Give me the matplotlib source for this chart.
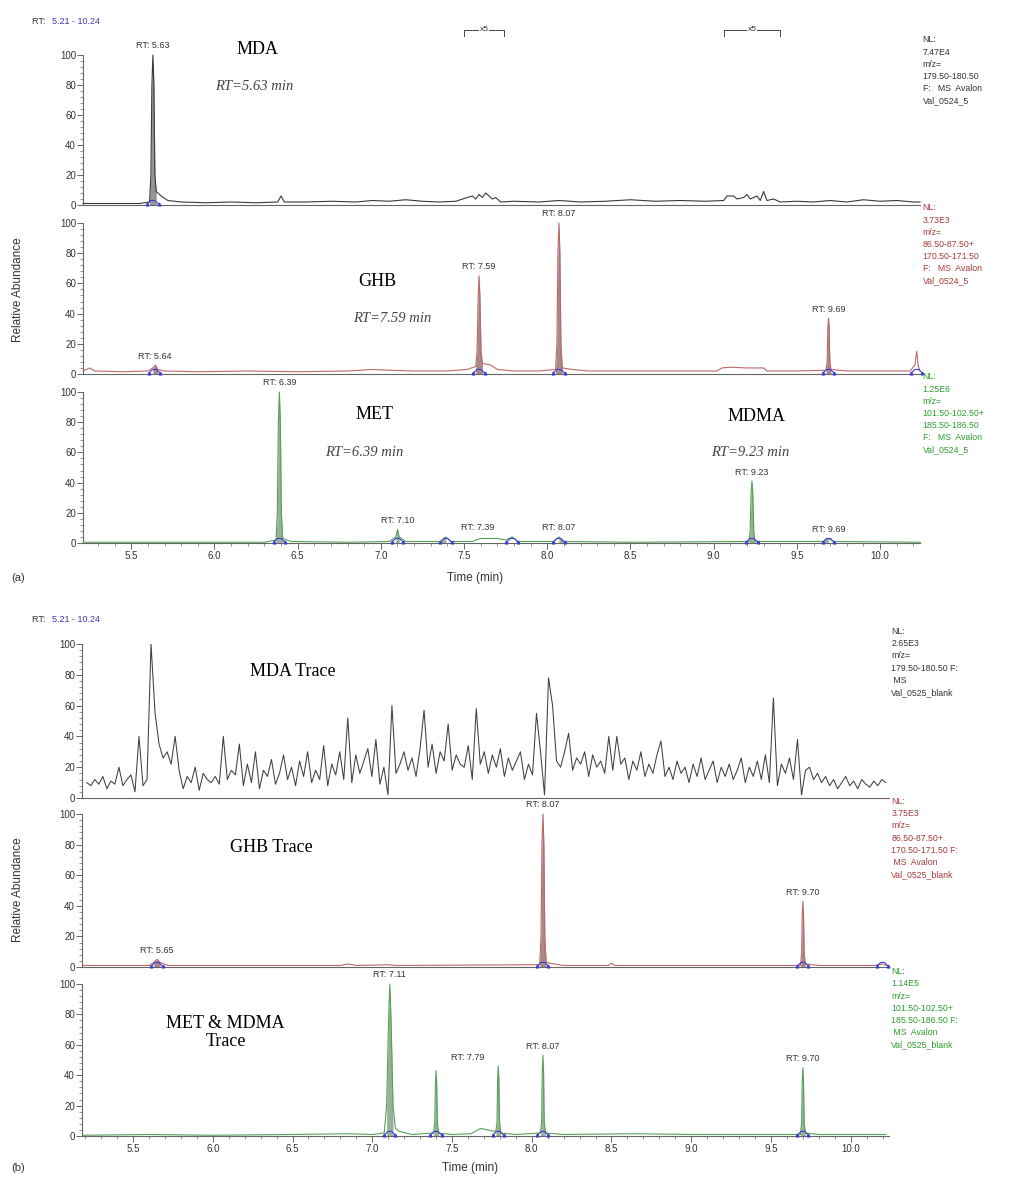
import numpy as np
import matplotlib
matplotlib.use("Agg")
import matplotlib.pyplot as plt
from matplotlib.ticker import MultipleLocator, NullFormatter

W, H = 1024, 1178

# ---------------- data ----------------
# (a) Val_0524_5 -- MDA channel (m/z 179.5-180.5)
a_mda_t = [5.21, 5.40, 5.55, 5.61, 5.618, 5.624, 5.63, 5.636, 5.642, 5.65, 5.68, 5.72,
           5.80, 5.95, 6.10, 6.25, 6.38, 6.40, 6.42, 6.55, 6.70, 6.85, 6.95, 7.05,
           7.15, 7.25, 7.35, 7.45, 7.52, 7.55, 7.57, 7.59, 7.61, 7.63, 7.65, 7.67,
           7.69, 7.72, 7.80, 7.95, 8.07, 8.20, 8.35, 8.50, 8.65, 8.80, 8.95, 9.06,
           9.08, 9.12, 9.14, 9.18, 9.20, 9.22, 9.26, 9.28, 9.30, 9.32, 9.36, 9.40,
           9.50, 9.60, 9.70, 9.80, 9.90, 10.00, 10.10, 10.20, 10.24]
a_mda_y = [1, 1, 1, 2, 20, 80, 100, 80, 20, 9, 6, 3,
           2, 1.5, 2, 1.5, 2, 6, 2, 2, 2.5, 2, 3, 2.5,
           3.5, 2.5, 2, 2.5, 5, 6, 4, 7, 5, 8, 6, 4,
           5, 2, 2.5, 2, 3, 2, 2.5, 3.5, 2.5, 3, 2.5, 3,
           6, 6, 4, 5, 7, 4, 6, 3, 9, 3, 4, 2,
           2.5, 2, 3, 2, 3.5, 2.5, 3, 2, 2]

# (a) GHB channel
a_ghb_t = [5.21, 5.25, 5.28, 5.45, 5.60, 5.63, 5.645, 5.66, 5.70, 5.90, 6.20, 6.50,
           6.80, 6.95, 7.05, 7.20, 7.40, 7.52, 7.57, 7.578, 7.585, 7.59, 7.595, 7.602,
           7.61, 7.66, 7.70, 7.80, 7.95, 8.05, 8.058, 8.064, 8.07, 8.076, 8.082, 8.09,
           8.15, 8.25, 8.50, 8.80, 9.02, 9.05, 9.10, 9.20, 9.30, 9.32, 9.50, 9.675,
           9.682, 9.686, 9.69, 9.694, 9.698, 9.705, 9.80, 10.00, 10.18, 10.21, 10.22,
           10.23, 10.24]
a_ghb_y = [2, 4, 2, 1.5, 2, 4, 6, 3, 2, 1.5, 2, 1.5,
           2, 3, 2.5, 2, 2, 3, 5, 15, 52, 65, 52, 15,
           7, 6, 3, 2, 2, 3, 20, 80, 100, 80, 20, 4,
           3, 2, 2, 2, 2, 4, 4.5, 4, 4, 2, 2, 2.5,
           8, 30, 37, 30, 8, 3, 2, 2, 2, 6, 15,
           5, 2]

# (a) MET + MDMA channel
a_met_t = [5.21, 6.30, 6.37, 6.378, 6.384, 6.39, 6.396, 6.402, 6.41, 6.46, 6.80, 7.05,
           7.09, 7.10, 7.11, 7.15, 7.36, 7.39, 7.42, 7.55, 7.60, 7.70, 7.75, 7.79,
           7.82, 8.04, 8.07, 8.10, 8.50, 9.212, 9.219, 9.225, 9.23, 9.235, 9.241, 9.248,
           9.66, 9.69, 9.72, 10.24]
a_met_y = [0.5, 0.5, 2, 20, 80, 100, 80, 20, 3, 1, 0.5, 1,
           4, 9, 4, 1, 1, 4, 1, 1, 3, 3, 2, 4,
           1, 1, 4, 1, 0.5, 1, 8, 33, 41, 33, 8, 1,
           1, 3, 1, 0.5]

# (b) Val_0525_blank -- MDA channel, one value per scan
b_mda_y = [10, 8, 12, 9, 14, 6, 11, 9, 20, 8, 12, 15, 4, 40, 8, 12, 100, 55, 35, 26,
           30, 22, 40, 18, 6, 14, 10, 20, 5, 16, 12, 10, 14, 9, 40, 12, 18, 15, 35, 8,
           22, 10, 30, 6, 18, 14, 25, 9, 16, 28, 12, 20, 8, 24, 14, 30, 10, 18, 12, 34,
           8, 22, 15, 30, 12, 52, 10, 28, 16, 24, 32, 14, 38, 9, 20, 2, 60, 16, 22, 30,
           18, 26, 14, 32, 57, 20, 35, 16, 30, 24, 48, 18, 28, 22, 20, 34, 12, 58, 22, 30,
           16, 28, 20, 32, 14, 26, 18, 24, 30, 12, 22, 15, 55, 30, 2, 78, 60, 24, 20, 30,
           42, 18, 26, 22, 30, 14, 28, 20, 24, 16, 40, 18, 40, 22, 26, 12, 24, 18, 30, 14,
           22, 16, 28, 37, 14, 20, 12, 24, 16, 20, 10, 22, 14, 26, 12, 18, 24, 10, 20, 14,
           22, 12, 18, 26, 10, 20, 14, 24, 12, 28, 10, 65, 8, 22, 16, 26, 12, 38, 2, 18,
           20, 12, 16, 10, 14, 8, 12, 6, 10, 14, 8, 11, 6, 12, 9, 7, 11, 8, 12, 10]
b_mda_t = np.linspace(5.21, 10.22, len(b_mda_y))

# (b) GHB channel
b_ghb_t = [5.19, 5.60, 5.63, 5.65, 5.67, 5.72, 6.80, 6.85, 6.90, 7.10, 7.15, 8.05,
           8.058, 8.064, 8.07, 8.076, 8.082, 8.09, 8.14, 8.20, 8.48, 8.50, 8.52, 9.685,
           9.692, 9.696, 9.70, 9.704, 9.708, 9.715, 9.80, 10.15, 10.20, 10.22]
b_ghb_y = [1, 1, 3, 5, 3, 1, 1, 2, 1, 1.5, 1, 1.5,
           20, 80, 100, 80, 20, 3, 2, 1, 1, 2.5, 1, 1,
           9, 34, 43, 34, 9, 2, 1, 1, 2, 1]

# (b) MET + MDMA channel
b_met_t = [5.19, 5.60, 6.00, 6.50, 6.85, 7.00, 7.075, 7.09, 7.102, 7.11, 7.118, 7.13,
           7.145, 7.17, 7.25, 7.385, 7.392, 7.396, 7.40, 7.404, 7.408, 7.415, 7.50, 7.62,
           7.68, 7.72, 7.775, 7.782, 7.786, 7.79, 7.794, 7.798, 7.805, 7.90, 8.055, 8.062,
           8.066, 8.07, 8.074, 8.078, 8.085, 8.20, 8.65, 9.00, 9.685, 9.692, 9.696, 9.70,
           9.704, 9.708, 9.715, 9.80, 10.22]
b_met_y = [0.5, 1, 0.5, 1, 1.5, 1, 2, 20, 75, 100, 75, 20,
           5, 3, 1, 2, 9, 34, 43, 34, 9, 2, 1, 1.5,
           5, 4, 3, 9, 37, 46, 37, 9, 2, 1, 2, 10,
           42, 53, 42, 10, 2, 1, 1.5, 1, 1, 9, 36, 45,
           36, 9, 2, 1, 1]

# integrated peaks (retention time) per trace; some carry no RT label
a_mda_peaks = [5.63]
a_ghb_peaks = [5.64, 7.59, 8.07, 9.69]
a_met_peaks = [6.39, 7.10, 7.39, 7.79, 8.07, 9.23, 9.69]
b_ghb_peaks = [5.65, 8.07, 9.70]
b_met_peaks = [7.11, 7.40, 7.79, 8.07, 9.70]
a_met_unlabelled = [7.79]
b_met_unlabelled = [7.40]

# integration marks without a labelled peak
a_ghb_extra = [10.22]
b_ghb_extra = [10.20]

# header texts on the right of each trace
a_info = ["NL:\n7.47E4\nm/z=\n179.50-180.50\nF:   MS  Avalon\nVal_0524_5",
          "NL:\n3.73E3\nm/z=\n86.50-87.50+\n170.50-171.50\nF:   MS  Avalon\nVal_0524_5",
          "NL:\n1.25E6\nm/z=\n101.50-102.50+\n185.50-186.50\nF:   MS  Avalon\nVal_0524_5"]
b_info = ["NL:\n2.65E3\nm/z=\n179.50-180.50 F:\n MS\nVal_0525_blank",
          "NL:\n3.75E3\nm/z=\n86.50-87.50+\n170.50-171.50 F:\n MS  Avalon\nVal_0525_blank",
          "NL:\n1.14E5\nm/z=\n101.50-102.50+\n185.50-186.50 F:\n MS  Avalon\nVal_0525_blank"]

# ---------------- styling ----------------
SANS = ["Liberation Sans", "DejaVu Sans"]
SERIF = ["Liberation Serif", "DejaVu Serif"]
TRACE = ["#3a3a3a", "#b86a6a", "#58a058"]
FILL = ["#959595", "#a88888", "#98b098"]
INFO = ["#333333", "#a83a3a", "#2e9e2e"]
BLUE = "#4040d0"
AXC = "#666666"
LABEL_SHIFT = {7.39: 0.19, 7.79: -0.19}  # labels Xcalibur pushed sideways

plt.rcParams["font.family"] = SANS

fig = plt.figure(figsize=(W / 100, H / 100), dpi=100)


def make_ax(left, right, top, bottom, xlim, bottom_ticks):
    ax = fig.add_axes([left / W, 1 - bottom / H, (right - left) / W, (bottom - top) / H])
    ax.set_xlim(*xlim)
    ax.set_ylim(0, 100)
    for s in ("top", "right"):
        ax.spines[s].set_visible(False)
    for s in ("left", "bottom"):
        ax.spines[s].set_color(AXC)
        ax.spines[s].set_linewidth(0.8)
    ax.yaxis.set_major_locator(MultipleLocator(20))
    ax.yaxis.set_minor_locator(MultipleLocator(4))
    ax.tick_params(axis="y", which="major", length=4, width=0.7, color=AXC,
                   labelsize=7, labelcolor="#333333", pad=1)
    ax.tick_params(axis="y", which="minor", length=2.5, width=0.5, color=AXC)
    if bottom_ticks:
        ax.xaxis.set_major_locator(MultipleLocator(0.5))
        ax.xaxis.set_minor_locator(MultipleLocator(0.1))
        ax.tick_params(axis="x", which="major", length=4, width=0.7, color=AXC,
                       labelsize=7, labelcolor="#333333", pad=2)
        ax.tick_params(axis="x", which="minor", length=2.5, width=0.5, color=AXC)
        ax.xaxis.set_major_formatter(plt.FormatStrFormatter("%.1f"))
    else:
        ax.tick_params(axis="x", which="both", length=0, labelbottom=False)
        ax.xaxis.set_minor_formatter(NullFormatter())
    return ax


def base_mark(ax, rt):
    ax.plot([rt - 0.035, rt - 0.012, rt + 0.012, rt + 0.035], [0.5, 3, 3, 0.5],
            color=BLUE, lw=0.8, zorder=4, clip_on=False)
    ax.plot([rt - 0.035, rt + 0.035], [0.5, 0.5], ls="none", marker="^",
            ms=2, color=BLUE, zorder=4, clip_on=False)


def draw_trace(ax, t, y, k, peaks=(), extra=(), unlabelled=(), win=0.03):
    t = np.asarray(t, dtype=float)
    y = np.asarray(y, dtype=float)
    ax.plot(t, y, color=TRACE[k], lw=0.8, clip_on=False, zorder=3)
    for rt in peaks:
        ax.fill_between(t, 0, y, where=np.abs(t - rt) <= win, color=FILL[k], lw=0,
                        zorder=2)
    for rt in list(peaks) + list(extra):
        base_mark(ax, rt)
    for rt in peaks:
        if rt in unlabelled:
            continue
        h = np.interp(rt, t, y)
        ax.text(rt + LABEL_SHIFT.get(rt, 0), h + 3, f"RT: {rt:.2f}", ha="center",
                va="bottom", fontsize=6.5, color="#333333", clip_on=False)


def title(ax, x, y, s, italic=False):
    ax.text(x, y, s, ha="center", va="center", family=SERIF, linespacing=1.1,
            fontsize=10.5 if italic else 13, style="italic" if italic else "normal",
            color="#444444" if italic else "black")


# ---------------- panel (a) ----------------
a_tops, a_bots = [55, 223, 392], [205, 374, 543]
a_axes = [make_ax(83, 920, a_tops[i], a_bots[i], (5.21, 10.24), i == 2) for i in range(3)]

draw_trace(a_axes[0], a_mda_t, a_mda_y, 0, a_mda_peaks)
draw_trace(a_axes[1], a_ghb_t, a_ghb_y, 1, a_ghb_peaks, a_ghb_extra)
draw_trace(a_axes[2], a_met_t, a_met_y, 2, a_met_peaks, unlabelled=a_met_unlabelled)

# x5 zoom brackets over the MDA trace
for x0, x1 in [(7.50, 7.74), (9.06, 9.40)]:
    a_axes[0].plot([x0, x0, x1, x1], [113, 117, 117, 113], color="#444444", lw=0.7,
                   clip_on=False)
    a_axes[0].text((x0 + x1) / 2, 117, "x5", ha="center", va="center", fontsize=6,
                   color="#333333", bbox=dict(fc="white", ec="none", pad=0.5),
                   clip_on=False)

title(a_axes[0], 6.26, 104, "MDA")
title(a_axes[0], 6.24, 79, "RT=5.63 min", italic=True)
title(a_axes[1], 6.98, 61, "GHB")
title(a_axes[1], 7.07, 37, "RT=7.59 min", italic=True)
title(a_axes[2], 6.96, 85, "MET")
title(a_axes[2], 6.90, 60, "RT=6.39 min", italic=True)
title(a_axes[2], 9.26, 84, "MDMA")
title(a_axes[2], 9.22, 60, "RT=9.23 min", italic=True)

for i, ax in enumerate(a_axes):
    ax.text(1.003, 1.13, a_info[i], transform=ax.transAxes, ha="left", va="top",
            fontsize=6.3, color=INFO[i], linespacing=1.45)

# ---------------- panel (b) ----------------
b_tops, b_bots = [644, 814, 984], [798, 967, 1136]
b_axes = [make_ax(82, 889, b_tops[i], b_bots[i], (5.18, 10.24), i == 2) for i in range(3)]

b_axes[0].plot(b_mda_t, b_mda_y, color="#404040", lw=0.75, zorder=3)
draw_trace(b_axes[1], b_ghb_t, b_ghb_y, 1, b_ghb_peaks, b_ghb_extra)
draw_trace(b_axes[2], b_met_t, b_met_y, 2, b_met_peaks, unlabelled=b_met_unlabelled)

title(b_axes[0], 6.50, 82, "MDA Trace")
title(b_axes[1], 6.37, 78, "GHB Trace")
title(b_axes[2], 6.08, 68, "MET & MDMA\nTrace")

for i, ax in enumerate(b_axes):
    ax.text(1.003, 1.11, b_info[i], transform=ax.transAxes, ha="left", va="top",
            fontsize=6.3, color=INFO[i], linespacing=1.45)

# ---------------- figure texts ----------------
for y_px in (22, 620):
    fig.text(32 / W, 1 - y_px / H, "RT: ", fontsize=6.5, color="#333333", va="center")
    fig.text(52 / W, 1 - y_px / H, "5.21 - 10.24", fontsize=6.5, color="#3a3ab0",
             va="center")

for y_px in (290, 890):
    fig.text(18 / W, 1 - y_px / H, "Relative Abundance", rotation=90, ha="center",
             va="center", fontsize=8.5, color="#333333")
fig.text(475 / W, 1 - 578 / H, "Time (min)", ha="center", va="center", fontsize=8.5,
         color="#333333")
fig.text(470 / W, 1 - 1168 / H, "Time (min)", ha="center", va="center", fontsize=8.5,
         color="#333333")
fig.text(18 / W, 1 - 578 / H, "(a)", ha="center", va="center", fontsize=8, color="#333333")
fig.text(18 / W, 1 - 1168 / H, "(b)", ha="center", va="center", fontsize=8, color="#333333")

fig.savefig("out.png", dpi=100)
